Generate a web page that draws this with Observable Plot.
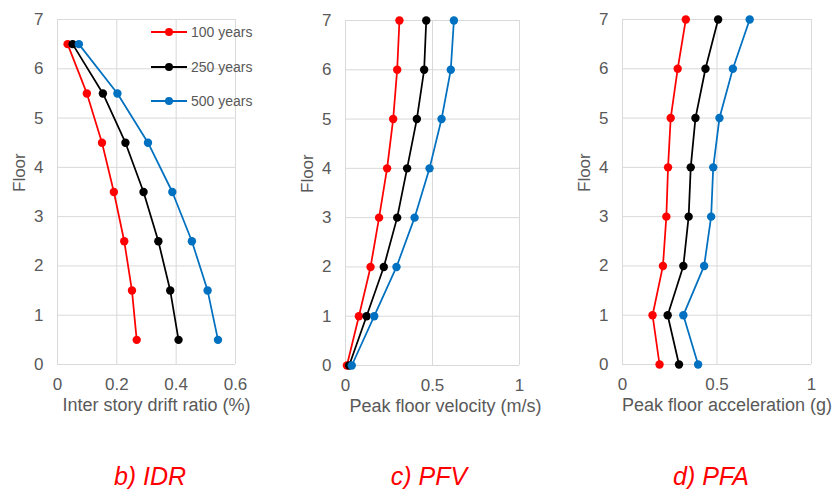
<!DOCTYPE html>
<html>
<head>
<meta charset="utf-8">
<script src="https://cdn.jsdelivr.net/npm/d3@7"></script>
<script src="https://cdn.jsdelivr.net/npm/@observablehq/plot@0.6"></script>
<style>
  html, body { margin: 0; padding: 0; background: #fff; }
  #root { position: relative; width: 835px; height: 489px; overflow: hidden; font-family: "Liberation Sans", Arial, sans-serif; }
  .panel { position: absolute; top: 0; }
  .caption { position: absolute; width: 200px; text-align: center; font-style: italic; font-size: 25px; line-height: 25px; color: #ff0000; top: 464px; }
  .legend { position: absolute; left: 151px; top: 0; }
  .lg-row { position: absolute; left: 0; width: 120px; height: 16px; }
  .lg-line { position: absolute; left: 0; top: 7px; width: 36px; height: 2px; }
  .lg-dot { position: absolute; left: 14px; top: 4px; width: 8px; height: 8px; border-radius: 50%; }
  .lg-text { position: absolute; left: 40px; top: 0; font-size: 14px; line-height: 16px; color: #595959; white-space: nowrap; }
</style>
</head>
<body>
<div id="root"></div>
<script>
// ---- data ----
const seriesNames = ["100 years", "250 years", "500 years"];
const seriesColors = ["#ff0000", "#000000", "#0070c0"];

const idrFloors = [0.5, 1.5, 2.5, 3.5, 4.5, 5.5, 6.5];
const idr100 = [0.267, 0.251, 0.225, 0.190, 0.150, 0.099, 0.034];
const idr250 = [0.408, 0.380, 0.340, 0.290, 0.229, 0.153, 0.051];
const idr500 = [0.541, 0.506, 0.453, 0.387, 0.305, 0.202, 0.072];

const floors = [0, 1, 2, 3, 4, 5, 6, 7];
const pfv100 = [0.008, 0.077, 0.144, 0.193, 0.239, 0.274, 0.297, 0.310];
const pfv250 = [0.021, 0.121, 0.220, 0.297, 0.354, 0.410, 0.452, 0.464];
const pfv500 = [0.036, 0.165, 0.293, 0.397, 0.483, 0.552, 0.605, 0.623];

const pfa100 = [0.196, 0.159, 0.214, 0.232, 0.241, 0.255, 0.292, 0.335];
const pfa250 = [0.299, 0.239, 0.322, 0.350, 0.361, 0.386, 0.439, 0.506];
const pfa500 = [0.400, 0.322, 0.432, 0.469, 0.480, 0.513, 0.584, 0.673];

const idrTicks = [0, 0.2, 0.4, 0.6];
const unitTicks = [0, 0.5, 1];
const floorTicks = [0, 1, 2, 3, 4, 5, 6, 7];

const axisTitles = ["Inter story drift ratio (%)", "Peak floor velocity (m/s)", "Peak floor acceleration (g)"];
const captions = ["b) IDR", "c) PFV", "d) PFA"];

// ---- helpers ----
function toRows(ys, lists) {
  const rows = [];
  lists.forEach((vals, i) => vals.forEach((v, j) => rows.push({series: seriesNames[i], x: v, y: ys[j]})));
  return rows;
}

const FONT = "'Liberation Sans', Arial, sans-serif";
const GRID = "#d9d9d9";
const TXT = "#595959";

function panel({rows, xTicks, title, width, marginLeft, marginRight, marginTop, marginBottom, titleDx}) {
  return Plot.plot({
    width, height: 430,
    marginLeft, marginRight, marginTop, marginBottom,
    style: {fontFamily: FONT, fontSize: "17px", color: TXT, background: "transparent", overflow: "visible"},
    x: {domain: [xTicks[0], xTicks[xTicks.length - 1]]},
    y: {domain: [0, 7]},
    color: {domain: seriesNames, range: seriesColors},
    marks: [
      Plot.gridX(xTicks, {stroke: GRID, strokeOpacity: 1, strokeWidth: 1}),
      Plot.gridY(floorTicks, {stroke: GRID, strokeOpacity: 1, strokeWidth: 1}),
      Plot.axisX(xTicks, {tickSize: 0, tickPadding: 13, tickFormat: d => String(d), label: null, fontSize: 17, fill: TXT}),
      Plot.axisY(floorTicks, {tickSize: 0, tickPadding: 14, tickFormat: d => String(d), label: null, fontSize: 17, fill: TXT}),
      Plot.line(rows, {x: "x", y: "y", z: "series", stroke: "series", strokeWidth: 1.75}),
      Plot.dot(rows, {x: "x", y: "y", fill: "series", r: 4.2}),
      Plot.text(["Floor"], {frameAnchor: "left", rotate: -90, dx: -37.5, fontSize: 17, fill: TXT}),
      Plot.text([title], {frameAnchor: "bottom", dx: titleDx, dy: 46, fontSize: 18, fill: TXT})
    ]
  });
}

const root = document.getElementById("root");

const configs = [
  {left: 0, rows: toRows(idrFloors, [idr100, idr250, idr500]), xTicks: idrTicks, title: axisTitles[0],
   width: 250, marginLeft: 57, marginRight: 15, marginTop: 19, marginBottom: 66, titleDx: 10, capX: 150},
  {left: 280, rows: toRows(floors, [pfv100, pfv250, pfv500]), xTicks: unitTicks, title: axisTitles[1],
   width: 265, marginLeft: 65, marginRight: 26, marginTop: 20, marginBottom: 65, titleDx: 13, capX: 429},
  {left: 560, rows: toRows(floors, [pfa100, pfa250, pfa500]), xTicks: unitTicks, title: axisTitles[2],
   width: 275, marginLeft: 62, marginRight: 24, marginTop: 19, marginBottom: 66, titleDx: 10, capX: 711}
];

configs.forEach((c, i) => {
  const div = document.createElement("div");
  div.className = "panel";
  div.style.left = c.left + "px";
  div.appendChild(panel(c));
  root.appendChild(div);
  const cap = document.createElement("div");
  cap.className = "caption";
  cap.style.left = (c.capX - 100) + "px";
  cap.textContent = captions[i];
  root.appendChild(cap);
});

// legend (inside first panel)
const legend = document.createElement("div");
legend.className = "legend";
const rowY = [32.3, 66.7, 101];
seriesNames.forEach((name, i) => {
  const row = document.createElement("div");
  row.className = "lg-row";
  row.style.top = (rowY[i] - 8) + "px";
  row.innerHTML = `<div class="lg-line" style="background:${seriesColors[i]}"></div>` +
    `<div class="lg-dot" style="background:${seriesColors[i]}"></div>` +
    `<div class="lg-text">${name}</div>`;
  legend.appendChild(row);
});
root.appendChild(legend);
</script>
</body>
</html>
